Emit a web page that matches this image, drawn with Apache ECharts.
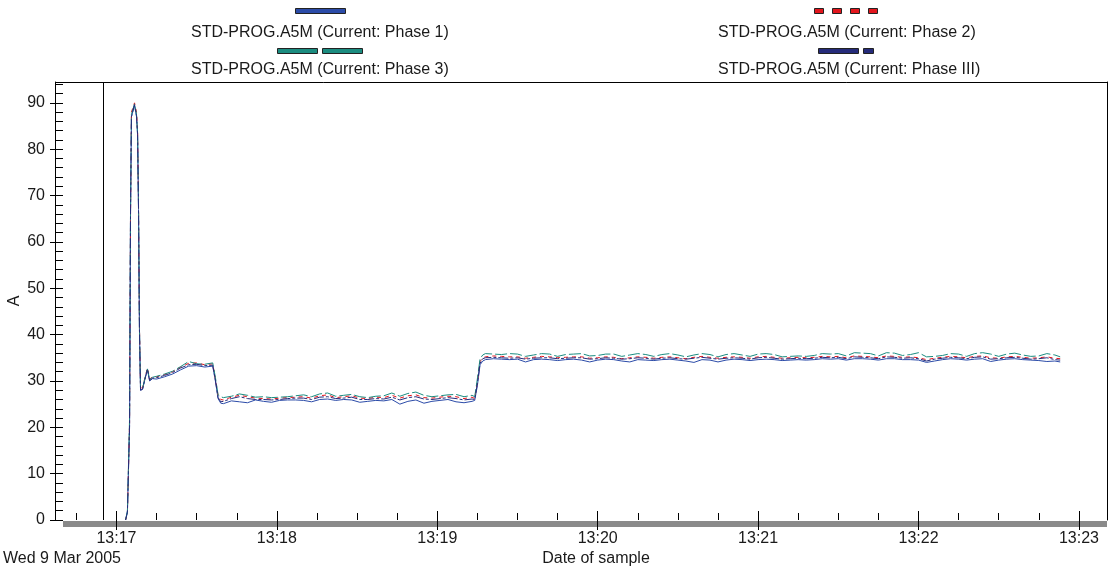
<!DOCTYPE html>
<html>
<head>
<meta charset="utf-8">
<script src="https://cdn.jsdelivr.net/npm/echarts@6/dist/echarts.min.js"></script>
<style>
html, body { margin: 0; padding: 0; background: #fff; }
#chart { width: 1110px; height: 572px; }
</style>
</head>
<body>
<div id="chart"></div>
<script>
// ---------------- data ----------------
// x = seconds after 13:17:00 on Wed 9 Mar 2005
var secs = [
  3.4, 4.1, 4.9, 5.25, 5.6, 6.75, 7.5, 7.9, 8.25, 8.6, 9, 9.75, 10.9, 11.6, 12.4, 13.5,
  15, 18, 21, 24, 27, 30, 33, 36, 37, 38, 39, 40,
  43, 46, 49, 52, 55, 58, 61, 64, 67, 70, 73, 76, 79, 82, 85, 88, 91, 94, 97, 100,
  103, 106, 109, 112, 115, 118, 121, 124, 127, 130, 133,
  134, 135, 136, 137, 138,
  141, 144, 147, 150, 153, 156, 159, 162, 165, 168, 171, 174, 177, 180, 183, 186,
  189, 192, 195, 198, 201, 204, 207, 210, 213, 216, 219, 222, 225, 228, 231, 234,
  237, 240, 243, 246, 249, 252, 255, 258, 261, 264, 267, 270, 273, 276, 279, 282,
  285, 288, 291, 294, 297, 300, 303, 306, 309, 312, 315, 318, 321, 324, 327, 330,
  333, 336, 339, 342, 345, 348, 351, 353
];

var phase1 = [
  0, 2, 20, 66, 87, 89.5, 87, 83, 67, 41, 28, 28.2, 31, 32.4, 30, 30.5,
  30.4, 30.9, 31.5, 32.4, 33.2, 33.3, 33.0, 33.2, 30.0, 26.2, 25.2, 25.1,
  25.7, 25.5, 25.3, 25.9, 25.6, 25.4, 25.8, 25.9, 25.9, 25.8, 25.5, 26.0, 26.1, 25.8, 26.0, 25.9, 25.4, 25.6, 25.8, 25.7,
  26.0, 25.0, 25.6, 25.9, 25.2, 25.6, 25.8, 26.0, 25.5, 25.3, 25.6,
  25.8, 29.0, 33.5, 34.3, 34.6,
  34.8, 34.7, 34.6, 34.7, 34.1, 34.6, 34.7, 34.6, 34.4, 34.6, 34.7, 34.5, 34.1, 34.5, 34.7, 34.6,
  34.3, 34.1, 34.6, 34.5, 34.4, 34.6, 34.7, 34.5, 34.3, 34.0, 34.6, 34.5, 34.1, 34.5, 34.7, 34.6,
  34.4, 34.6, 34.7, 34.6, 34.4, 34.5, 34.6, 34.5, 34.6, 34.8, 34.7, 34.8, 34.5, 34.8, 34.8, 34.7,
  34.5, 34.8, 34.8, 34.6, 34.6, 34.5, 34.0, 34.3, 34.6, 34.8, 34.7, 34.5, 34.7, 34.8, 34.2, 34.5,
  34.7, 34.8, 34.6, 34.5, 34.4, 34.2, 34.3, 34.1
];

var phase2 = [
  0, 1.5, 21, 65, 88, 90, 88, 84, 68, 42, 28.5, 28.5, 31.3, 32.8, 30.4, 30.9,
  30.9, 31.4, 32.0, 33.0, 33.8, 33.9, 33.5, 33.7, 30.5, 26.8, 26.0, 25.9,
  26.5, 26.9, 26.6, 26.3, 26.2, 26.1, 26.3, 26.4, 26.5, 26.6, 26.3, 26.8, 27.0, 26.4, 26.6, 26.8, 26.3, 26.2, 26.5, 26.4,
  26.9, 26.3, 26.8, 27.0, 26.4, 26.3, 26.5, 26.7, 26.6, 26.2, 26.5,
  26.2, 30.0, 34.2, 35.0, 35.2,
  35.4, 35.3, 35.2, 35.2, 34.9, 35.1, 35.3, 35.2, 35.0, 35.1, 35.2, 35.2, 34.9, 35.0, 35.2, 35.1,
  34.8, 35.0, 35.2, 35.1, 34.9, 35.1, 35.2, 35.0, 34.8, 35.1, 35.3, 35.1, 34.9, 35.1, 35.2, 35.1,
  34.9, 35.2, 35.3, 35.1, 34.9, 35.0, 35.1, 35.0, 35.1, 35.3, 35.2, 35.3, 35.0, 35.4, 35.3, 35.2,
  35.0, 35.4, 35.3, 35.1, 35.2, 35.0, 34.6, 34.9, 35.1, 35.3, 35.2, 35.0, 35.3, 35.4, 35.0, 34.9,
  35.2, 35.3, 35.1, 34.9, 35.0, 35.2, 34.9, 34.8
];

var phase3 = [
  0, 1.8, 22, 66, 87.5, 89.8, 87.5, 83.5, 67.5, 41.5, 28.3, 28.4, 31.2, 32.6, 30.3, 30.8,
  31.0, 31.5, 32.1, 33.1, 34.2, 33.7, 33.6, 33.9, 30.8, 27.0, 26.6, 26.4,
  26.7, 27.2, 26.9, 26.5, 26.6, 26.4, 26.5, 26.6, 26.8, 27.0, 26.6, 27.2, 27.4, 26.7, 26.9, 27.1, 26.6, 26.4, 26.7, 26.8,
  27.4, 26.7, 27.3, 27.6, 26.9, 26.6, 26.8, 27.0, 27.1, 26.6, 26.9,
  26.6, 30.5, 34.8, 35.6, 35.9,
  35.8, 35.7, 35.9, 35.8, 35.3, 35.6, 35.9, 35.8, 35.3, 35.7, 35.8, 35.9, 35.4, 35.5, 35.8, 35.8,
  35.3, 35.6, 35.9, 35.7, 35.3, 35.7, 35.9, 35.6, 35.2, 35.6, 35.9, 35.7, 35.2, 35.7, 35.9, 35.6,
  35.3, 35.8, 35.9, 35.7, 35.2, 35.3, 35.4, 35.3, 35.5, 35.9, 35.8, 35.9, 35.4, 36.1, 36.0, 35.9,
  35.4, 36.1, 36.0, 35.5, 35.7, 36.1, 35.2, 35.3, 35.5, 35.9, 35.8, 35.3, 35.9, 36.1, 35.8, 35.3,
  35.8, 36.0, 35.6, 35.3, 35.4, 35.9, 35.6, 35.2
];

var phaseIII = [
  0, 1.6, 20.5, 65.5, 87, 89.6, 87.2, 83.2, 67, 41, 28, 28.2, 31, 32.5, 30.1, 30.6,
  30.7, 31.2, 31.8, 32.8, 33.5, 33.6, 33.3, 33.4, 30.2, 26.4, 25.5, 25.6,
  26.2, 26.6, 26.2, 26.0, 26.0, 25.9, 26.0, 26.2, 26.3, 26.3, 26.0, 26.5, 26.6, 26.2, 26.3, 26.5, 26.0, 26.0, 26.2, 26.1,
  26.5, 25.9, 26.4, 26.6, 26.1, 26.0, 26.2, 26.4, 26.2, 25.9, 26.1,
  26.0, 29.5, 33.8, 34.8, 35.0,
  35.1, 35.0, 34.9, 35.0, 34.7, 34.9, 35.0, 35.0, 34.8, 34.9, 35.0, 35.0, 34.7, 34.8, 35.0, 34.9,
  34.7, 34.8, 35.0, 34.9, 34.7, 34.9, 35.0, 34.8, 34.7, 34.9, 35.1, 34.9, 34.7, 34.9, 35.0, 34.9,
  34.7, 35.0, 35.1, 34.9, 34.7, 34.8, 34.9, 34.8, 34.9, 35.1, 35.0, 35.1, 34.8, 35.2, 35.1, 35.0,
  34.8, 35.2, 35.1, 34.9, 35.0, 34.8, 34.3, 34.7, 34.9, 35.1, 35.0, 34.8, 35.1, 35.2, 34.7, 34.8,
  35.0, 35.1, 34.9, 34.7, 34.8, 35.0, 34.6, 34.5
];

var seriesNames = [
  'STD-PROG.A5M (Current: Phase 1)',
  'STD-PROG.A5M (Current: Phase 2)',
  'STD-PROG.A5M (Current: Phase 3)',
  'STD-PROG.A5M (Current: Phase III)'
];

var majorTicks = [0, 60, 120, 180, 240, 300, 360];
var timeLabels = ['13:17', '13:18', '13:19', '13:20', '13:21', '13:22', '13:23'];
var minorTicks = [-15, 15, 30, 45, 75, 90, 105, 135, 150, 165, 195, 210, 225,
  255, 270, 285, 315, 330, 345];
var yTicks = [0, 10, 20, 30, 40, 50, 60, 70, 80, 90];
var startMark = -5;   // 13:16:55
var dateLabel = 'Wed 9 Mar 2005';

// ---------------- view ----------------
var FONT = '"Liberation Sans", Arial, sans-serif';
var TXT = '#1a1a1a';
var X_MIN = -20, X_MAX = 370.5, Y_MAX = 94.5;

function pairs(values) {
  return secs.map(function (s, i) { return [s, values[i]]; });
}

function legendText(name, left, top) {
  return {
    data: [name], left: left, top: top, padding: 0,
    icon: 'none', itemWidth: 0, itemHeight: 14, itemGap: 0, selectedMode: false,
    textStyle: { fontFamily: FONT, fontSize: 16, color: TXT }
  };
}

function legendSymbol(name, path, w, left, top) {
  return {
    data: [{ name: name, icon: 'path://' + path }], left: left, top: top, padding: 0,
    itemWidth: w, itemHeight: 5, itemGap: 0, selectedMode: false,
    formatter: function () { return ''; },
    textStyle: { fontSize: 1 },
    itemStyle: { borderColor: '#222', borderWidth: 1 }
  };
}

function hiddenX(extra) {
  var a = {
    type: 'value', min: X_MIN, max: X_MAX, position: 'bottom',
    axisLine: { show: false, onZero: false }, axisLabel: { show: false },
    axisTick: { show: false }, splitLine: { show: false }
  };
  for (var k in extra) a[k] = extra[k];
  return a;
}

var colors = ['#2B4BA8', '#E3161D', '#1B8C80', '#252B7A'];
var dashes = ['solid', [4, 4], [12, 3], [10, 2, 3, 2]];
var values = [phase1, phase2, phase3, phaseIII];

var series = values.map(function (v, i) {
  return {
    name: seriesNames[i], type: 'line', data: pairs(v),
    symbol: 'none', color: colors[i], itemStyle: { color: colors[i] },
    lineStyle: { width: 1, type: dashes[i], color: colors[i] },
    xAxisIndex: 0, yAxisIndex: 0
  };
});
series[0].markLine = {
  silent: true, symbol: ['none', 'none'], label: { show: false },
  lineStyle: { color: '#000', width: 1, type: 'solid' },
  data: [{ xAxis: startMark }]
};

var option = {
  animation: false,
  textStyle: { fontFamily: FONT },
  legend: [
    legendSymbol(seriesNames[0], 'M0,0H50V5H0Z', 50, 295, 8),
    legendText(seriesNames[0], 186, 25),
    legendSymbol(seriesNames[1], 'M0,0H9V5H0Z M18,0H27V5H18Z M36,0H45V5H36Z M54,0H63V5H54Z', 63, 814, 8),
    legendText(seriesNames[1], 713, 25),
    legendSymbol(seriesNames[2], 'M0,0H40V5H0Z M45,0H85V5H45Z', 85, 277, 48),
    legendText(seriesNames[2], 186, 62),
    legendSymbol(seriesNames[3], 'M0,0H40V5H0Z M45,0H55V5H45Z', 55, 818, 48),
    legendText(seriesNames[3], 713, 62)
  ],
  grid: { left: 63, right: 3, top: 82, bottom: 52, containLabel: false, outerBoundsMode: 'none' },
  xAxis: [
    {
      type: 'value', min: X_MIN, max: X_MAX, position: 'bottom', offset: 4,
      name: 'Date of sample', nameLocation: 'middle', nameGap: 27, nameMoveOverlap: false,
      nameTextStyle: { fontFamily: FONT, fontSize: 16, color: TXT, padding: [0, 0, 0, 22] },
      axisLine: { show: true, onZero: false, lineStyle: { color: '#8a8a8a', width: 6, cap: 'butt' } },
      axisTick: { show: true, customValues: majorTicks, length: 6, lineStyle: { color: '#000' } },
      axisLabel: {
        customValues: majorTicks, margin: 7, fontFamily: FONT, fontSize: 16, color: TXT,
        formatter: function (v) { return timeLabels[majorTicks.indexOf(v)]; }
      },
      splitLine: { show: false }
    },
    hiddenX({ offset: 4, axisTick: { show: true, inside: true, customValues: majorTicks, length: 13, lineStyle: { color: '#000' } } }),
    hiddenX({ offset: 0, axisTick: { show: true, inside: true, customValues: minorTicks, length: 7, lineStyle: { color: '#000' } } }),
    hiddenX({ position: 'top', axisLine: { show: true, onZero: false, lineStyle: { color: '#000', width: 1 } } })
  ],
  yAxis: [
    {
      type: 'value', min: 0, max: Y_MAX, position: 'left', offset: 8,
      name: 'A', nameLocation: 'middle', nameRotate: 90, nameGap: 32, nameMoveOverlap: false,
      nameTextStyle: { fontFamily: FONT, fontSize: 16, color: TXT },
      axisLine: { show: true, onZero: false, lineStyle: { color: '#000', width: 1 } },
      axisTick: { show: true, customValues: yTicks, length: 5, lineStyle: { color: '#000' } },
      axisLabel: { customValues: yTicks, margin: 10, fontFamily: FONT, fontSize: 16, color: TXT },
      splitLine: { show: false }
    },
    {
      type: 'value', min: 0, max: Y_MAX, interval: 2, position: 'left', offset: 8,
      axisLine: { show: false, onZero: false }, axisLabel: { show: false },
      axisTick: { show: true, inside: true, length: 8, lineStyle: { color: '#000' } },
      splitLine: { show: false }
    },
    {
      type: 'value', min: 0, max: Y_MAX, position: 'right',
      axisLine: { show: true, onZero: false, lineStyle: { color: '#000', width: 1 } },
      axisLabel: { show: false }, axisTick: { show: false }, splitLine: { show: false }
    }
  ],
  graphic: [
    { type: 'line', shape: { x1: 55, y1: 82.5, x2: 63, y2: 82.5 }, style: { stroke: '#000', lineWidth: 1 } },
    { type: 'text', left: 3, top: 551, style: { text: dateLabel, fontFamily: FONT, fontSize: 16, fill: TXT } }
  ],
  series: series
};

echarts.init(document.getElementById('chart')).setOption(option);
</script>
</body>
</html>
